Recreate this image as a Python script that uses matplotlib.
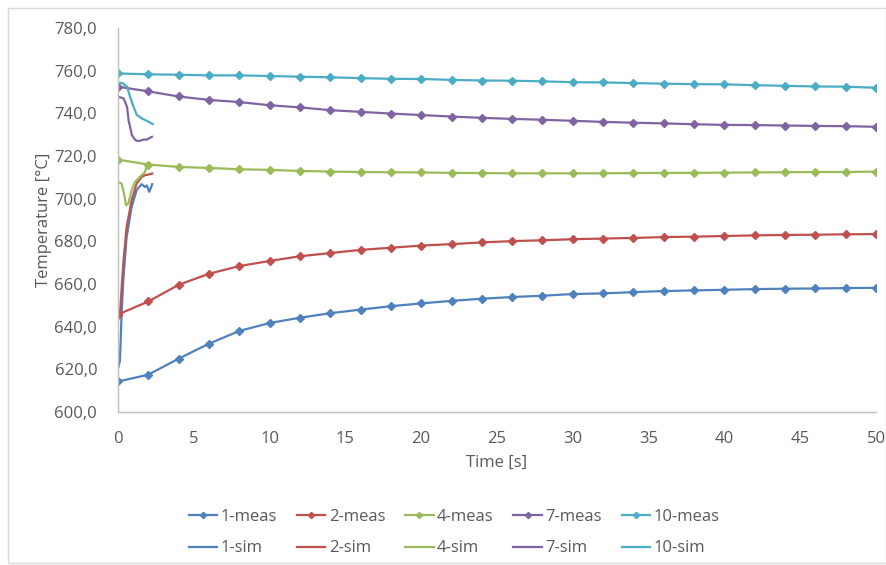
import matplotlib
matplotlib.use("Agg")
import matplotlib.pyplot as plt
from matplotlib.patches import Rectangle
from matplotlib.ticker import FuncFormatter, MultipleLocator

plt.rcParams['font.family'] = ['Open Sans', 'DejaVu Sans']

# measured data (every 2 s)
t_meas = list(range(0, 51, 2))
meas_1 = [614.3, 617.5, 625.0, 632.0, 638.0, 641.7, 644.2, 646.3, 648.0, 649.6, 650.9, 652.1, 653.1,
          653.9, 654.5, 655.3, 655.6, 656.2, 656.7, 657.0, 657.3, 657.6, 657.8, 657.9, 658.1, 658.2]
meas_2 = [645.7, 651.8, 659.6, 664.8, 668.4, 670.8, 673.0, 674.5, 676.0, 677.0, 678.0, 678.7, 679.5,
          680.1, 680.5, 681.0, 681.3, 681.6, 682.0, 682.2, 682.5, 682.8, 683.0, 683.1, 683.3, 683.4]
meas_4 = [718.3, 716.0, 714.9, 714.4, 713.8, 713.5, 713.0, 712.7, 712.5, 712.4, 712.3, 712.1, 712.0,
          711.9, 711.9, 711.9, 711.9, 712.0, 712.1, 712.1, 712.2, 712.3, 712.4, 712.5, 712.5, 712.7]
meas_7 = [752.5, 750.3, 747.9, 746.3, 745.3, 743.8, 742.8, 741.5, 740.7, 739.9, 739.2, 738.5, 737.9,
          737.4, 737.0, 736.5, 736.0, 735.6, 735.3, 734.9, 734.6, 734.5, 734.3, 734.1, 734.0, 733.7]
meas_10 = [758.7, 758.3, 758.1, 757.8, 757.8, 757.5, 757.2, 756.9, 756.5, 756.2, 756.1, 755.7, 755.4,
           755.3, 755.0, 754.6, 754.5, 754.2, 753.9, 753.7, 753.6, 753.2, 752.9, 752.6, 752.5, 752.0]

# simulated data (first ~2.3 s)
t_sim_1 = [0.0, 0.13, 0.24, 0.35, 0.57, 0.9, 1.23, 1.56, 1.78, 1.9, 2.07, 2.26]
sim_1 = [620.2, 624.0, 646.0, 661.7, 682.0, 696.0, 704.0, 706.8, 705.5, 706.2, 703.2, 706.8]
t_sim_2 = [0.0, 0.13, 0.35, 0.57, 0.9, 1.23, 1.56, 1.78, 2.0, 2.26]
sim_2 = [645.3, 646.0, 669.5, 686.7, 699.2, 707.1, 710.2, 711.0, 711.3, 711.8]
t_sim_4 = [0.0, 0.24, 0.4, 0.53, 0.68, 0.9, 1.12, 1.45, 1.78, 1.89, 2.1]
sim_4 = [707.9, 707.1, 702.4, 696.9, 697.7, 704.0, 707.8, 710.2, 712.5, 714.9, 716.5]
t_sim_7 = [0.0, 0.37, 0.6, 0.7, 0.92, 1.15, 1.36, 1.69, 1.9, 2.24]
sim_7 = [747.8, 747.0, 743.0, 736.8, 729.8, 727.4, 727.0, 727.7, 727.7, 729.0]
t_sim_10 = [0.0, 0.26, 0.6, 0.8, 1.03, 1.25, 1.58, 1.9, 2.29]
sim_10 = [754.0, 754.3, 752.5, 747.7, 743.0, 739.2, 737.6, 736.5, 735.0]

labels = ['1', '2', '4', '7', '10']
colors = ['#4F81BD', '#C0504D', '#9BBB59', '#8064A2', '#4BACC6']
meas = [meas_1, meas_2, meas_4, meas_7, meas_10]
sims = [(t_sim_1, sim_1), (t_sim_2, sim_2), (t_sim_4, sim_4), (t_sim_7, sim_7), (t_sim_10, sim_10)]

fig = plt.figure(figsize=(8.87, 5.65), dpi=100)
ax = fig.add_axes([0.133, 0.2708, 0.8546, 0.6796])

handles = []
for lab, c, m, (ts, s) in zip(labels, colors, meas, sims):
    hm, = ax.plot(t_meas, m, color=c, lw=1.6, marker='D', ms=4.5, label=f'{lab}-meas')
    hs, = ax.plot(ts, s, color=c, lw=1.6, label=f'{lab}-sim')
    handles += [hm, hs]

ax.set_xlim(0, 50)
ax.set_ylim(600, 780)
ax.xaxis.set_major_locator(MultipleLocator(5))
ax.yaxis.set_major_locator(MultipleLocator(20))
ax.yaxis.set_major_formatter(FuncFormatter(lambda v, p: f'{v:.1f}'.replace('.', ',')))
for sp in ['top', 'right']:
    ax.spines[sp].set_visible(False)
for sp in ['left', 'bottom']:
    ax.spines[sp].set_color('#BFBFBF')
    ax.spines[sp].set_linewidth(1.0)
ax.tick_params(length=0, labelsize=12, labelcolor='#595959')
ax.tick_params(axis='x', pad=14)
ax.tick_params(axis='y', pad=15)
ax.set_xlabel('Time [s]', fontsize=12, color='#595959', labelpad=5)
ax.set_ylabel('Temperature [°C]', fontsize=12, color='#595959', labelpad=2)

fig.legend(handles=handles, loc='center', bbox_to_anchor=(0.512, 0.0575), ncol=5,
           frameon=False, fontsize=12, labelcolor='#595959', handlelength=1.7,
           handletextpad=0.2, columnspacing=1.2, labelspacing=0.95, markerscale=0.7)

fig.patches.append(Rectangle((8 / 887, 2 / 565), 878 / 887, 555 / 565, transform=fig.transFigure,
                             fill=False, edgecolor='#D9D9D9', lw=1.0))

fig.savefig('out.png', dpi=100)
